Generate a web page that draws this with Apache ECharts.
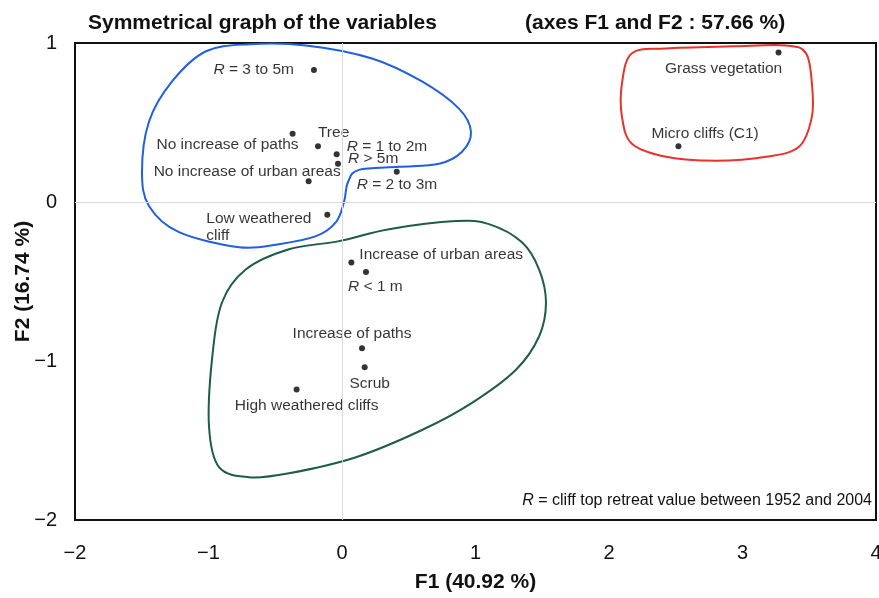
<!DOCTYPE html>
<html>
<head>
<meta charset="utf-8">
<script src="https://cdn.jsdelivr.net/npm/echarts@6/dist/echarts.min.js"></script>
<style>
  html, body { margin: 0; padding: 0; background: #fff; }
  #chart { width: 879px; height: 598px; }
</style>
</head>
<body>
<div id="chart"></div>
<script>
// variables (F1, F2 coordinates)
var names = [
  '{i|R} = 3 to 5m', 'Grass vegetation', 'Micro cliffs (C1)', 'No increase of paths', 'Tree',
  '{i|R} = 1 to 2m', '{i|R} > 5m', 'No increase of urban areas', '{i|R} = 2 to 3m', 'Low weathered\ncliff',
  'Increase of urban areas', '{i|R} < 1 m', 'Increase of paths', 'Scrub', 'High weathered cliffs'
]
var f1 = [-0.21, 3.27, 2.52, -0.37, -0.18, -0.04, -0.03, -0.25, 0.41, -0.11, 0.07, 0.18, 0.15, 0.17, -0.34]
var f2 = [0.83, 0.94, 0.35, 0.43, 0.35, 0.30, 0.24, 0.13, 0.19, -0.08, -0.38, -0.44, -0.92, -1.04, -1.18]

// group outlines (F1, F2)
var blueOutline = [
  [-1.498, 0.19], [-1.446, 0.505], [-1.273, 0.758], [-1.019, 0.948], [-0.697, 0.992], [-0.270, 0.985],
  [0.225, 0.903], [0.599, 0.758], [0.876, 0.587], [0.966, 0.442], [0.899, 0.316], [0.727, 0.24],
  [0.427, 0.221], [0.127, 0.202], [0.045, 0.126], [0.015, 0], [-0.045, -0.126], [-0.195, -0.215],
  [-0.472, -0.265], [-0.772, -0.284], [-1.221, -0.19], [-1.446, -0.025]
]
var redOutline = [
  [2.172, 0.935], [2.427, 0.966], [2.921, 0.979], [3.326, 0.985], [3.476, 0.935], [3.52, 0.745],
  [3.52, 0.537], [3.423, 0.347], [3.176, 0.284], [2.801, 0.259], [2.427, 0.284], [2.172, 0.366],
  [2.097, 0.537], [2.097, 0.745]
]
var greenOutline = [
  [-0.719, -0.423], [-0.397, -0.297], [-0.022, -0.246], [0.352, -0.171], [0.854, -0.12], [1.101, -0.139],
  [1.348, -0.253], [1.476, -0.423], [1.528, -0.632], [1.476, -0.846], [1.303, -1.055], [0.974, -1.263],
  [0.599, -1.434], [0.105, -1.605], [-0.397, -1.706], [-0.697, -1.731], [-0.921, -1.668], [-0.996, -1.415],
  [-0.974, -0.992], [-0.899, -0.632]
]

// label placement: [align, dx, dy] from the dot
var labelPlace = [
  ['right', -20, 0], ['center', -55, 16], ['left', -27, -13], ['right', 6, 11], ['left', 0, -14],
  ['left', 10, -8], ['left', 10, -5], ['right', 32, -10], ['left', -40, 13], ['left', -121, 12],
  ['left', 8, -8], ['left', -18, 15], ['center', -10, -15], ['center', 5, 16], ['center', 10, 16]
]

var FONT = 'Liberation Sans'
var LABEL_SIZE = 15.5

var points = names.map(function (n, i) {
  return {
    value: [f1[i], f2[i]],
    label: {
      show: true,
      formatter: n,
      position: 'inside',
      align: labelPlace[i][0],
      verticalAlign: 'middle',
      offset: [labelPlace[i][1], labelPlace[i][2]]
    }
  }
})

// closed catmull-rom curve through the outline points (in pixel space)
function closedCurve (pts) {
  var n = pts.length
  var d = 'M' + pts[0][0] + ' ' + pts[0][1]
  for (var i = 0; i < n; i++) {
    var p0 = pts[(i - 1 + n) % n], p1 = pts[i], p2 = pts[(i + 1) % n], p3 = pts[(i + 2) % n]
    var c1 = [p1[0] + (p2[0] - p0[0]) / 6, p1[1] + (p2[1] - p0[1]) / 6]
    var c2 = [p2[0] - (p3[0] - p1[0]) / 6, p2[1] - (p3[1] - p1[1]) / 6]
    d += ' C' + c1[0] + ' ' + c1[1] + ' ' + c2[0] + ' ' + c2[1] + ' ' + p2[0] + ' ' + p2[1]
  }
  return d + ' Z'
}

function outlineSeries (pts, color) {
  return {
    type: 'custom',
    silent: true,
    z: 1,
    data: [0],
    renderItem: function (params, api) {
      return {
        type: 'path',
        shape: {
          pathData: closedCurve(pts.map(function (p) { return api.coord(p) }))
        },
        style: { fill: 'none', stroke: color, lineWidth: 2 }
      }
    }
  }
}

function minus (v) { return String(v).replace('-', '\u2212') }

var chart = echarts.init(document.getElementById('chart'))
chart.setOption({
  animation: false,
  title: [{
    text: 'Symmetrical graph of the variables',
    left: 83, top: 8,
    textStyle: { fontFamily: FONT, fontSize: 21, fontWeight: 'bold', color: '#111' }
  }, {
    text: '(axes F1 and F2 : 57.66 %)',
    left: 520, top: 8,
    textStyle: { fontFamily: FONT, fontSize: 21, fontWeight: 'bold', color: '#111' }
  }],
  grid: {
    left: 75, right: 3, top: 43, bottom: 78,
    outerBoundsMode: 'none',
    show: true, borderColor: '#111', borderWidth: 2, backgroundColor: 'transparent'
  },
  xAxis: {
    type: 'value', min: -2, max: 4, interval: 1,
    name: 'F1 (40.92 %)', nameLocation: 'middle', nameGap: 52, nameMoveOverlap: false,
    nameTextStyle: { fontFamily: FONT, fontSize: 21, fontWeight: 'bold', color: '#111' },
    axisLine: { show: false }, axisTick: { show: false }, splitLine: { show: false },
    axisLabel: { margin: 23, fontFamily: FONT, fontSize: 20, color: '#111', formatter: minus }
  },
  yAxis: {
    type: 'value', min: -2, max: 1, interval: 1,
    name: 'F2 (16.74 %)', nameLocation: 'middle', nameGap: 41, nameMoveOverlap: false,
    nameTextStyle: { fontFamily: FONT, fontSize: 21, fontWeight: 'bold', color: '#111' },
    axisLine: { show: false }, axisTick: { show: false }, splitLine: { show: false },
    axisLabel: { margin: 18, fontFamily: FONT, fontSize: 20, color: '#111', formatter: minus }
  },
  graphic: [{
    type: 'text',
    right: 7, top: 493,
    style: {
      text: '{i|R} = cliff top retreat value between 1952 and 2004',
      fontFamily: FONT, fontSize: 16, fill: '#111',
      rich: { i: { fontStyle: 'italic', fontFamily: FONT, fontSize: 16 } }
    }
  }],
  series: [
    outlineSeries(blueOutline, '#1f5fe0'),
    outlineSeries(redOutline, '#e8322b'),
    outlineSeries(greenOutline, '#1d5c48'),
    {
      type: 'scatter',
      z: 3,
      symbolSize: 6,
      itemStyle: { color: '#000' },
      label: {
        fontFamily: FONT, fontSize: LABEL_SIZE, color: '#000', lineHeight: 17, textBorderWidth: 0,
        rich: { i: { fontStyle: 'italic', fontFamily: FONT, fontSize: LABEL_SIZE, color: '#000' } }
      },
      markLine: {
        silent: true,
        symbol: 'none',
        label: { show: false },
        lineStyle: { color: '#d9d9d9', width: 1, type: 'solid' },
        data: [{ xAxis: 0 }, { yAxis: 0 }]
      },
      data: points
    }
  ]
})
</script>
</body>
</html>
